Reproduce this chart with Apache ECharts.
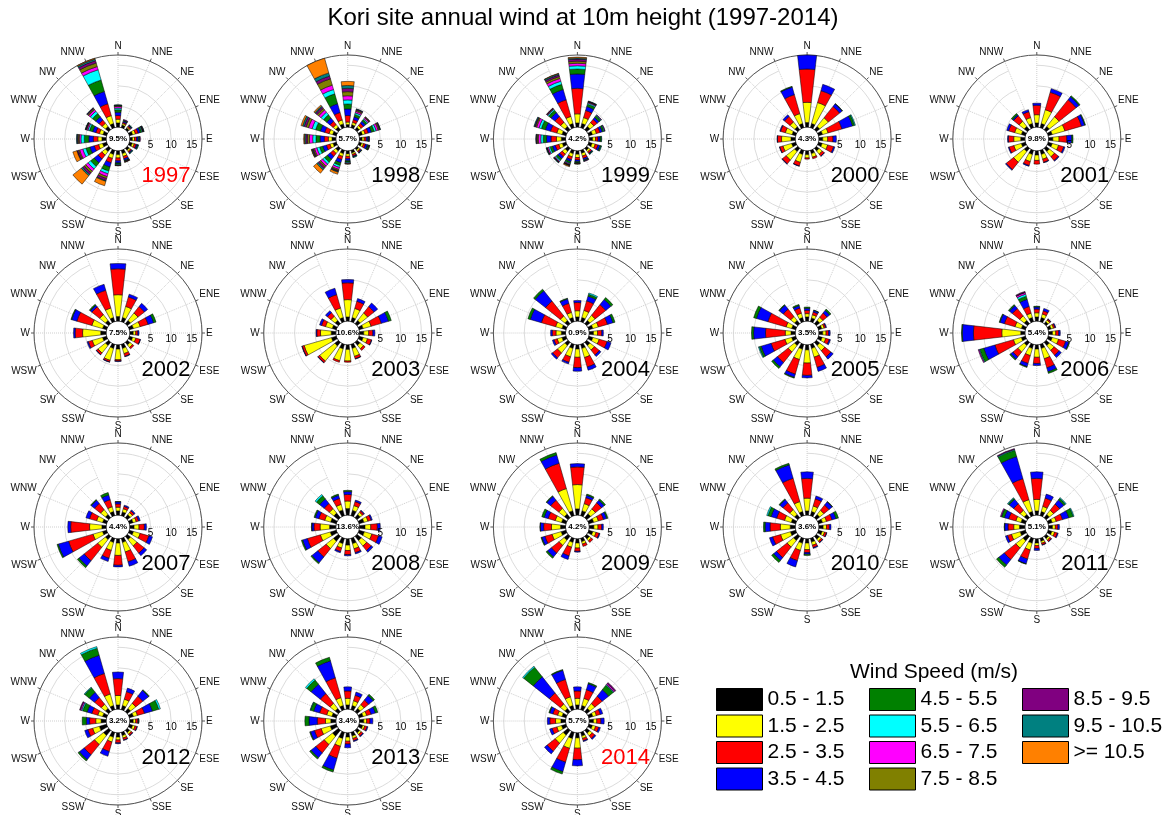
<!DOCTYPE html>
<html>
<head>
<meta charset="utf-8">
<script src="https://cdn.jsdelivr.net/npm/echarts@6/dist/echarts.min.js"></script>
<style>
  html, body { margin: 0; padding: 0; background: #fff; }
  #chart { width: 1166px; height: 815px; }
</style>
</head>
<body>
<div id="chart"></div>
<script>
const directions = ['N', 'NNE', 'NE', 'ENE', 'E', 'ESE', 'SE', 'SSE', 'S', 'SSW', 'SW', 'WSW', 'W', 'WNW', 'NW', 'NNW'];
const speedBins = ['0.5 - 1.5', '1.5 - 2.5', '2.5 - 3.5', '3.5 - 4.5', '4.5 - 5.5', '5.5 - 6.5',
  '6.5 - 7.5', '7.5 - 8.5', '8.5 - 9.5', '9.5 - 10.5', '>= 10.5'];
const years = [1997, 1998, 1999, 2000, 2001, 2002, 2003, 2004, 2005, 2006, 2007, 2008, 2009, 2010, 2011, 2012, 2013, 2014];
const calm = [9.5, 5.7, 4.2, 4.3, 9.8, 7.5, 10.6, 0.9, 3.5, 5.4, 4.4, 13.6, 4.2, 3.6, 5.1, 3.2, 3.4, 5.7];
const radiusTicks = [5, 10, 15];

// frequency in % for each direction (N, NNE, ... NNW), one column per speed bin
const f1997 = [
  [1.0, 0.9, 0.9, 0.8, 0.6, 0.4, 0.4, 0.2, 0.1, 0.1],
  [0.6, 0.4, 0.3, 0.3, 0.2, 0.1, 0.1],
  [0.5, 0.3, 0.3, 0.2, 0.1, 0.1],
  [0.8, 0.7, 0.7, 0.5, 0.4, 0.2, 0.1, 0.1, 0.1, 0.1],
  [0.6, 0.5, 0.5, 0.4, 0.3, 0.1, 0.1],
  [0.7, 0.5, 0.5, 0.3, 0.2, 0.1],
  [0.6, 0.4, 0.3, 0.2, 0.1, 0.1],
  [0.8, 0.7, 0.6, 0.4, 0.2, 0.1, 0.1, 0.1],
  [0.9, 0.8, 0.7, 0.5, 0.3, 0.2, 0.1, 0.1],
  [1.0, 1.0, 1.1, 1.1, 1.0, 0.7, 0.7, 0.5, 0.5, 0.2, 1.1],
  [1.0, 1.1, 1.2, 1.2, 1.1, 0.8, 0.7, 0.5, 0.5, 0.4, 2.6],
  [1.0, 1.0, 1.1, 1.1, 1.0, 0.8, 0.8, 0.3, 0.3, 0.1, 1.0],
  [1.0, 1.0, 1.1, 1.1, 1.1, 0.8, 0.4, 0.3, 0.2, 0.2],
  [0.9, 0.9, 0.9, 0.8, 0.8, 0.4, 0.3, 0.2, 0.1, 0.1],
  [1.0, 1.0, 1.0, 1.0, 1.0, 0.7, 0.5, 0.3, 0.2, 0.1],
  [1.0, 2.0, 3.0, 3.1, 2.9, 2.6, 0.8, 0.9, 0.6, 0.4, 0.2]
];
const f1998 = [
  [0.6, 0.6, 1.6, 1.6, 1.2, 1.0, 1.0, 1.0, 0.8, 0.7, 1.0],
  [0.7, 0.6, 0.7, 0.7, 0.6, 0.4, 0.4, 0.3, 0.2, 0.1],
  [0.7, 0.6, 0.7, 0.6, 0.5, 0.3, 0.3, 0.2, 0.1],
  [0.8, 0.7, 0.8, 0.8, 0.7, 0.5, 0.5, 0.3, 0.2, 0.1],
  [0.6, 0.5, 0.5, 0.4, 0.2, 0.1, 0.1],
  [0.6, 0.5, 0.5, 0.5, 0.3, 0.1, 0.1, 0.1],
  [0.5, 0.4, 0.3, 0.2, 0.1],
  [0.6, 0.4, 0.4, 0.2, 0.1, 0.1],
  [0.7, 0.6, 0.6, 0.5, 0.3, 0.2, 0.2, 0.1],
  [0.8, 0.7, 0.8, 0.8, 0.7, 0.5, 0.5, 0.3, 0.2, 0.2, 0.5],
  [0.8, 0.8, 0.9, 0.9, 0.9, 0.6, 0.6, 0.4, 0.4, 0.4, 1.0],
  [0.8, 0.8, 0.9, 0.9, 0.8, 0.7, 0.6, 0.3, 0.2, 0.2, 0.1],
  [0.9, 0.9, 1.0, 1.0, 1.0, 0.8, 0.8, 0.5, 0.4, 0.3, 0.2],
  [0.9, 0.9, 1.1, 1.1, 1.2, 0.9, 0.9, 0.6, 0.5, 0.4, 0.4],
  [0.8, 0.8, 1.0, 1.0, 1.0, 0.8, 0.7, 0.5, 0.4, 0.3, 0.3],
  [0.9, 1.0, 1.9, 2.2, 2.5, 1.1, 1.1, 1.6, 0.7, 0.8, 3.7]
];
const f1999 = [
  [1.0, 2.2, 6.2, 3.5, 1.2, 0.8, 0.6, 0.5, 0.5, 0.3, 0.2],
  [1.0, 1.5, 1.8, 1.0, 0.6, 0.3, 0.2, 0.1, 0.1, 0.1],
  [1.0, 1.2, 1.0, 0.6, 0.5, 0.2, 0.1],
  [0.9, 1.0, 0.9, 0.6, 0.4, 0.2, 0.1],
  [0.8, 0.7, 0.6, 0.5, 0.3, 0.1],
  [0.8, 0.8, 0.7, 0.5, 0.3, 0.1],
  [0.6, 0.5, 0.4, 0.2, 0.1, 0.1],
  [0.7, 0.7, 0.6, 0.4, 0.2, 0.1, 0.1],
  [0.8, 0.8, 0.6, 0.4, 0.3, 0.1, 0.1, 0.1],
  [0.8, 0.8, 0.7, 0.5, 0.4, 0.2, 0.2, 0.1, 0.1, 0.1, 0.2],
  [0.9, 0.9, 0.8, 0.6, 0.5, 0.3, 0.2, 0.1, 0.1, 0.1],
  [0.9, 0.9, 0.9, 0.7, 0.6, 0.4, 0.3, 0.1, 0.1, 0.1],
  [1.0, 1.2, 1.3, 1.1, 0.8, 0.6, 0.6, 0.3, 0.2, 0.1],
  [1.0, 1.3, 1.6, 1.3, 1.0, 0.6, 0.6, 0.3, 0.2, 0.2],
  [1.0, 1.3, 1.8, 1.2, 0.7, 0.3, 0.2, 0.1, 0.1],
  [1.0, 1.8, 4.2, 2.6, 1.3, 0.8, 0.7, 0.5, 0.4, 0.3, 0.1]
];
const f2000 = [
  [1.1, 4.9, 8.1, 3.5],
  [1.0, 5.3, 3.0, 1.6],
  [1.0, 2.7, 3.5, 0.8, 0.1],
  [1.0, 1.4, 3.5, 2.7, 0.5, 0.2],
  [0.9, 1.2, 1.3, 0.8],
  [0.9, 1.4, 1.5, 0.3],
  [0.8, 1.0, 0.6, 0.1],
  [0.8, 0.9, 0.4],
  [0.9, 0.8, 0.3],
  [1.0, 2.0, 0.9, 0.1],
  [1.0, 2.6, 1.2, 0.1],
  [1.0, 2.2, 0.8, 0.1],
  [1.0, 2.3, 1.0, 0.1],
  [0.9, 1.7, 1.2, 0.2],
  [0.9, 1.5, 1.7, 0.5],
  [1.0, 2.5, 4.8, 1.9, 0.2]
];
const f2001 = [
  [1.0, 2.0, 2.3, 0.5],
  [1.0, 3.5, 4.4, 0.9],
  [1.0, 3.0, 5.3, 0.9, 0.3],
  [1.0, 3.2, 4.2, 0.8, 0.2],
  [1.0, 1.5, 1.9, 1.2, 0.3],
  [1.0, 1.6, 1.3, 0.3],
  [1.0, 1.6, 1.2, 0.2],
  [1.0, 1.2, 0.8, 0.1],
  [1.0, 1.3, 0.9],
  [1.0, 1.8, 1.0, 0.2],
  [1.0, 3.3, 2.3, 0.2],
  [1.0, 1.9, 1.2, 0.2],
  [1.0, 1.7, 1.3, 0.2],
  [1.0, 1.7, 1.5, 0.5],
  [1.0, 1.6, 1.7, 0.3, 0.4],
  [1.0, 1.5, 1.5, 0.5]
];
const f2002 = [
  [1.1, 5.3, 6.3, 1.3],
  [1.0, 2.8, 2.4, 0.7],
  [1.0, 2.3, 2.0, 1.0],
  [1.0, 1.7, 2.0, 1.4, 0.6],
  [0.8, 0.6, 0.5, 0.3],
  [0.8, 0.8, 1.1, 0.1],
  [0.8, 0.8, 0.4],
  [1.0, 1.3, 0.7, 0.1],
  [1.0, 2.6, 0.3, 0.1],
  [1.0, 3.0, 0.4, 0.1],
  [1.0, 2.3, 0.5, 0.1],
  [1.0, 2.6, 1.0, 0.3],
  [1.3, 4.4, 1.8, 0.4],
  [1.0, 2.7, 3.8, 1.3, 0.2],
  [1.0, 1.8, 2.4, 0.5, 0.3],
  [1.0, 2.4, 4.5, 1.5]
];
const f2003 = [
  [1.0, 4.2, 4.1, 0.8],
  [1.0, 2.3, 1.8, 0.7],
  [1.0, 2.3, 2.0, 1.1],
  [1.0, 2.0, 2.6, 1.8, 0.7],
  [1.0, 1.2, 1.0, 0.5],
  [1.0, 1.1, 1.0, 0.1],
  [0.9, 1.1, 0.5],
  [1.0, 2.0, 0.6, 0.1],
  [1.1, 2.8, 0.3],
  [1.1, 3.0, 0.4],
  [1.1, 4.7, 0.5, 0.1],
  [1.2, 6.9, 0.5, 0.1],
  [1.1, 2.6, 0.9, 0.2],
  [1.0, 1.7, 1.0, 0.5],
  [1.0, 1.3, 1.1, 0.6],
  [1.0, 2.4, 3.4, 1.6]
];
const f2004 = [
  [1.0, 1.5, 2.0, 0.5],
  [1.0, 1.8, 2.4, 1.2, 0.5, 0.3],
  [1.0, 1.6, 3.3, 1.6, 0.6],
  [1.0, 1.4, 2.3, 1.4, 0.5],
  [1.0, 1.0, 1.0, 0.4],
  [1.0, 1.6, 2.0, 1.0],
  [1.0, 1.4, 1.5, 0.5],
  [1.0, 2.3, 2.4, 0.8],
  [1.0, 2.0, 2.5, 0.9],
  [1.0, 2.1, 1.4, 0.4],
  [1.0, 2.3, 1.5, 0.4],
  [1.0, 1.2, 0.8, 0.4],
  [1.0, 1.3, 0.9, 0.4],
  [1.0, 1.6, 3.6, 2.8, 0.6],
  [1.0, 1.4, 4.6, 3.2, 0.5],
  [1.0, 1.3, 2.3, 1.1, 0.2]
];
const f2005 = [
  [1.0, 0.8, 0.8, 0.5, 0.3],
  [0.9, 0.8, 0.7, 0.4, 0.1],
  [1.0, 1.0, 1.3, 0.8, 0.4],
  [0.8, 0.6, 0.4, 0.2],
  [0.9, 0.8, 0.6, 0.4],
  [0.9, 0.9, 0.9, 0.3],
  [1.0, 1.6, 1.9, 0.7],
  [1.0, 2.2, 2.6, 1.0],
  [1.2, 3.2, 3.0, 0.6],
  [1.2, 2.6, 3.7, 0.8, 0.2],
  [1.0, 2.0, 3.3, 1.3, 0.5],
  [1.0, 1.7, 3.5, 2.5, 0.5, 0.2],
  [1.0, 1.4, 4.8, 2.9, 0.5],
  [1.0, 1.4, 4.6, 2.9, 0.7],
  [1.0, 1.2, 2.3, 1.2, 0.2],
  [1.0, 1.1, 1.3, 0.6, 0.3]
];
const f2006 = [
  [1.0, 1.0, 0.9, 0.5, 0.2],
  [1.0, 0.9, 0.8, 0.6],
  [0.6, 0.5, 0.3, 0.1],
  [0.7, 0.6, 0.4, 0.2],
  [0.9, 0.8, 0.7, 0.4],
  [1.0, 1.6, 1.8, 0.8, 0.2],
  [1.0, 1.5, 1.5, 0.7],
  [1.0, 2.6, 2.3, 1.0, 0.4],
  [1.0, 2.0, 1.5, 0.5],
  [1.0, 1.8, 2.0, 0.8, 0.2],
  [1.0, 2.0, 1.5, 0.7, 0.3],
  [1.0, 2.0, 4.7, 2.8, 1.0, 0.2, 0.2],
  [1.0, 4.6, 6.9, 2.7, 0.2],
  [1.0, 1.6, 2.7, 1.1, 0.2],
  [1.0, 1.4, 2.3, 0.9, 0.3],
  [1.0, 1.1, 1.7, 1.8, 0.8, 0.5, 0.4, 0.1, 0.2]
];
const f2007 = [
  [1.0, 0.9, 0.8, 0.5, 0.1],
  [0.9, 0.8, 0.6, 0.3],
  [0.9, 0.7, 0.5, 0.3],
  [0.9, 0.8, 0.6, 0.4],
  [1.0, 1.2, 1.3, 0.5],
  [1.0, 1.7, 2.2, 0.9],
  [1.0, 2.0, 2.2, 0.8],
  [1.0, 2.4, 2.5, 1.1],
  [1.0, 3.0, 2.4, 0.4],
  [1.0, 2.0, 2.0, 0.8],
  [1.0, 2.4, 4.2, 1.6, 0.5],
  [1.0, 2.4, 6.2, 2.6, 0.3],
  [1.0, 3.0, 4.6, 0.7],
  [1.0, 1.5, 1.8, 0.9],
  [1.0, 1.5, 1.9, 1.0, 0.2],
  [1.0, 1.2, 1.8, 1.2, 0.6]
];
const f2008 = [
  [1.6, 1.8, 1.6, 0.7, 0.3],
  [1.3, 1.2, 1.0, 0.4],
  [1.0, 0.7, 0.4, 0.2],
  [1.2, 1.0, 0.8, 0.3],
  [1.3, 1.4, 1.6, 0.7],
  [1.3, 1.9, 1.7, 0.9],
  [1.3, 1.7, 1.4, 0.5],
  [1.3, 1.3, 1.0, 0.3],
  [1.5, 1.3, 1.0, 0.3],
  [1.3, 1.1, 0.9, 0.3],
  [1.5, 2.3, 2.6, 1.8, 0.3],
  [1.5, 2.5, 3.3, 1.2, 0.3],
  [1.5, 2.3, 1.5, 0.5, 0.1],
  [1.4, 1.5, 1.5, 0.9, 0.3],
  [1.4, 1.4, 1.6, 1.4, 1.0, 0.4],
  [1.4, 1.4, 1.5, 0.8, 0.3]
];
const f2009 = [
  [1.5, 5.9, 4.3, 0.8],
  [1.2, 1.8, 1.5, 0.6, 0.3],
  [1.2, 1.5, 1.9, 0.8, 0.4],
  [1.2, 1.2, 1.3, 0.8, 0.3],
  [1.1, 1.0, 0.9, 0.4],
  [1.0, 0.8, 0.8, 0.2],
  [0.8, 0.6, 0.5],
  [0.8, 0.6, 0.6],
  [1.0, 1.2, 0.8, 0.2],
  [1.0, 1.2, 2.2, 0.9],
  [1.2, 1.6, 2.4, 1.2, 0.4],
  [1.2, 2.3, 1.8, 0.8, 0.2],
  [1.2, 2.2, 1.9, 0.8, 0.1],
  [1.1, 1.6, 1.8, 1.0, 0.6],
  [1.1, 1.8, 2.5, 1.2, 0.2],
  [1.2, 5.6, 6.4, 2.1, 0.6]
];
const f2010 = [
  [1.0, 3.1, 4.8, 1.6],
  [1.0, 1.4, 1.8, 0.7],
  [1.0, 1.3, 1.6, 1.0, 0.1],
  [1.0, 1.0, 1.4, 1.0, 0.6],
  [1.0, 0.8, 0.7, 0.4],
  [0.9, 0.6, 0.5, 0.1],
  [0.9, 0.6, 0.4, 0.1],
  [0.9, 0.8, 0.6, 0.2],
  [1.0, 1.6, 0.7, 0.4, 0.3],
  [1.2, 1.8, 2.6, 1.6],
  [1.3, 2.0, 3.3, 0.9, 0.6],
  [1.3, 2.5, 2.0, 0.8],
  [1.2, 2.4, 2.5, 1.2, 0.4],
  [1.1, 1.7, 2.0, 1.4, 0.8, 0.3],
  [1.0, 1.5, 2.1, 1.0, 0.2],
  [1.0, 2.5, 5.9, 3.4, 0.4]
];
const f2011 = [
  [1.0, 2.8, 5.1, 1.6],
  [1.0, 1.3, 2.1, 1.0],
  [1.0, 1.3, 1.9, 1.3, 0.5, 0.2],
  [1.0, 1.0, 1.6, 1.6, 1.1, 0.2],
  [0.9, 0.7, 0.6, 0.4],
  [0.9, 0.7, 0.7, 0.2],
  [0.7, 0.5, 0.4, 0.1],
  [0.7, 0.5, 0.4, 0.1],
  [1.0, 0.6, 0.7, 0.5],
  [1.2, 1.7, 2.3, 1.2, 0.1],
  [1.4, 2.2, 3.6, 1.7, 0.7],
  [1.3, 2.2, 1.0, 0.5],
  [1.3, 1.4, 1.4, 0.8, 0.1],
  [1.1, 1.3, 1.8, 1.1, 0.7, 0.1, 0.2],
  [1.0, 1.3, 2.0, 1.4, 0.3, 0.2],
  [1.0, 3.0, 5.3, 5.6, 1.6, 0.2, 0, 0, 0.2]
];
const f2012 = [
  [1.0, 2.3, 4.1, 1.6],
  [1.0, 1.6, 1.9, 0.9],
  [1.0, 1.6, 2.2, 1.8, 0.2],
  [1.0, 1.0, 1.8, 2.0, 1.6, 0.4],
  [0.8, 0.6, 0.5, 0.2, 0.1],
  [0.8, 0.6, 0.5, 0.1],
  [0.7, 0.5, 0.4, 0.1],
  [0.8, 0.6, 0.5, 0.1],
  [1.0, 0.7, 0.7, 0.2],
  [1.2, 1.2, 2.4, 1.2],
  [1.6, 2.8, 3.2, 1.5, 0.4],
  [1.8, 1.7, 1.2, 0.8],
  [1.2, 1.3, 1.5, 0.8, 1.0],
  [1.0, 1.2, 1.5, 1.2, 1.1, 0.3, 0.3, 0, 0.2],
  [1.0, 1.3, 2.1, 1.6, 1.4, 0.2],
  [1.0, 2.9, 5.2, 4.6, 1.8, 0.4]
];
const f2013 = [
  [1.0, 1.6, 1.8, 1.0],
  [1.0, 1.2, 1.4, 0.8],
  [1.0, 1.2, 1.4, 1.4, 0.4],
  [1.0, 0.9, 1.1, 1.1, 0.6],
  [1.0, 0.7, 0.8, 0.7],
  [0.9, 0.5, 0.6, 0.2],
  [0.8, 0.5, 0.5, 0.2],
  [0.9, 0.6, 0.6, 0.2],
  [1.0, 1.0, 0.7, 0.9],
  [1.5, 2.0, 3.0, 3.0, 0.5],
  [1.8, 2.6, 2.6, 1.5, 0.4],
  [1.5, 2.3, 1.7, 1.0, 0.2],
  [1.2, 1.3, 2.0, 2.0, 1.0],
  [1.1, 1.3, 1.8, 1.5, 0.8, 0.1],
  [1.0, 1.6, 3.0, 2.9, 1.3, 0.4],
  [1.0, 2.0, 5.0, 4.3, 0.9]
];
const f2014 = [
  [1.0, 1.6, 1.8, 1.0],
  [1.0, 1.8, 2.2, 1.5, 0.3],
  [1.0, 1.5, 2.3, 2.0, 1.4, 0.2, 0.3, 0, 0.3],
  [1.0, 0.9, 1.0, 0.6],
  [1.0, 0.8, 1.0, 0.8],
  [0.9, 0.8, 0.8, 0.4],
  [0.9, 0.8, 0.8, 0.3],
  [0.9, 0.6, 0.6, 0.2],
  [1.2, 2.5, 2.8, 1.5],
  [1.5, 2.5, 3.5, 2.4, 0.6],
  [1.5, 2.5, 2.5, 0.8],
  [1.1, 1.2, 1.2, 0.6],
  [1.1, 1.3, 1.4, 0.6],
  [1.0, 1.1, 1.2, 0.8, 0.2],
  [1.0, 1.4, 3.4, 5.0, 3.0, 0.3],
  [1.0, 2.2, 4.4, 2.3, 0.2]
];

const roses = [f1997, f1998, f1999, f2000, f2001, f2002, f2003, f2004, f2005, f2006,
  f2007, f2008, f2009, f2010, f2011, f2012, f2013, f2014];

const binColors = ['#000000', '#ffff00', '#ff0000', '#0000ff', '#008000', '#00ffff',
  '#ff00ff', '#808000', '#800080', '#008080', '#ff8000'];
const FONT = "'Liberation Sans', Arial, Helvetica, sans-serif";

let myChart = echarts.init(document.getElementById('chart'));

let polar = [], angleAxis = [], radiusAxis = [], series = [];
let title = [{
  text: 'Kori site annual wind at 10m height (1997-2014)',
  left: 'center', top: 6, padding: 0,
  textStyle: { fontSize: 24, fontWeight: 'normal', color: '#000', fontFamily: FONT }
}];

roses.forEach((rose, i) => {
  const cx = 118 + (i % 5) * 229.7;
  const cy = 139 + Math.floor(i / 5) * 194;
  const p = i * 2;
  // one polar for the bars and grid, one only for the 5/10/15 labels along E
  polar.push({ center: [cx, cy], radius: [12, 84] }, { center: [cx, cy], radius: [12, 84] });
  angleAxis.push({
    polarIndex: p,
    type: 'category',
    data: directions,
    boundaryGap: false,
    startAngle: 90,
    clockwise: true,
    axisLine: { lineStyle: { color: '#555', width: 1 } },
    axisTick: { show: true, length: 3, lineStyle: { color: '#555' } },
    axisLabel: { fontSize: 10, color: '#111', margin: 4, fontFamily: FONT },
    splitLine: { show: true, lineStyle: { color: '#cfcfcf', type: 'dotted', width: 1 } }
  }, {
    polarIndex: p + 1,
    type: 'value', min: 0, max: 360,
    startAngle: 0,
    show: false
  });
  radiusAxis.push({
    polarIndex: p,
    min: 0, max: 17.5, interval: 5,
    axisLine: { show: false }, axisTick: { show: false }, axisLabel: { show: false },
    splitLine: { show: true, lineStyle: { color: '#dcdcdc', width: 1 } }
  }, {
    polarIndex: p + 1,
    min: 0, max: 17.5, interval: 5,
    z: 10,
    axisLine: { show: false }, axisTick: { show: false }, splitLine: { show: false },
    axisLabel: {
      fontSize: 10, color: '#000', margin: -1, verticalAlign: 'top', fontFamily: FONT,
      formatter: v => radiusTicks.includes(v) ? String(v) : ''
    }
  });

  speedBins.forEach((bin, b) => {
    series.push({
      type: 'bar',
      name: bin,
      coordinateSystem: 'polar',
      polarIndex: p,
      stack: 'rose' + i,
      barWidth: '58%',
      silent: true,
      itemStyle: { color: binColors[b], borderColor: '#000', borderWidth: 0.5 },
      data: rose.map(row => (row[b] ? row[b] : null))
    });
  });

  title.push({
    text: calm[i] + '%',
    left: cx, top: cy, padding: 0,
    textAlign: 'center', textVerticalAlign: 'middle',
    textStyle: { fontSize: 8, fontWeight: 'bold', color: '#000', fontFamily: FONT }
  });
  title.push({
    text: String(years[i]),
    left: cx + 48, top: cy + 37, padding: 0,
    textAlign: 'center', textVerticalAlign: 'middle',
    textStyle: {
      fontSize: 22, fontWeight: 'normal', fontFamily: FONT,
      color: (years[i] === 1997 || years[i] === 2014) ? '#ff0000' : '#000'
    }
  });
});

title.push({
  text: 'Wind Speed (m/s)',
  left: 934, top: 672, padding: 0,
  textAlign: 'center', textVerticalAlign: 'middle',
  textStyle: { fontSize: 21, fontWeight: 'normal', color: '#000', fontFamily: FONT }
});

let legend = [0, 1, 2].map(c => ({
  data: speedBins.slice(c * 4, c * 4 + 4),
  orient: 'vertical',
  left: 716 + c * 153,
  top: 688,
  padding: 0,
  itemWidth: 46,
  itemHeight: 22,
  itemGap: 3.5,
  icon: 'rect',
  selectedMode: false,
  itemStyle: { borderColor: '#000', borderWidth: 1 },
  textStyle: { fontSize: 21, color: '#000', fontFamily: FONT }
}));

myChart.setOption({
  animation: false,
  backgroundColor: '#fff',
  title: title,
  legend: legend,
  polar: polar,
  angleAxis: angleAxis,
  radiusAxis: radiusAxis,
  series: series
});

window.addEventListener('resize', () => {
  if (myChart) {
    myChart.resize();
  }
});
</script>
</body>
</html>
